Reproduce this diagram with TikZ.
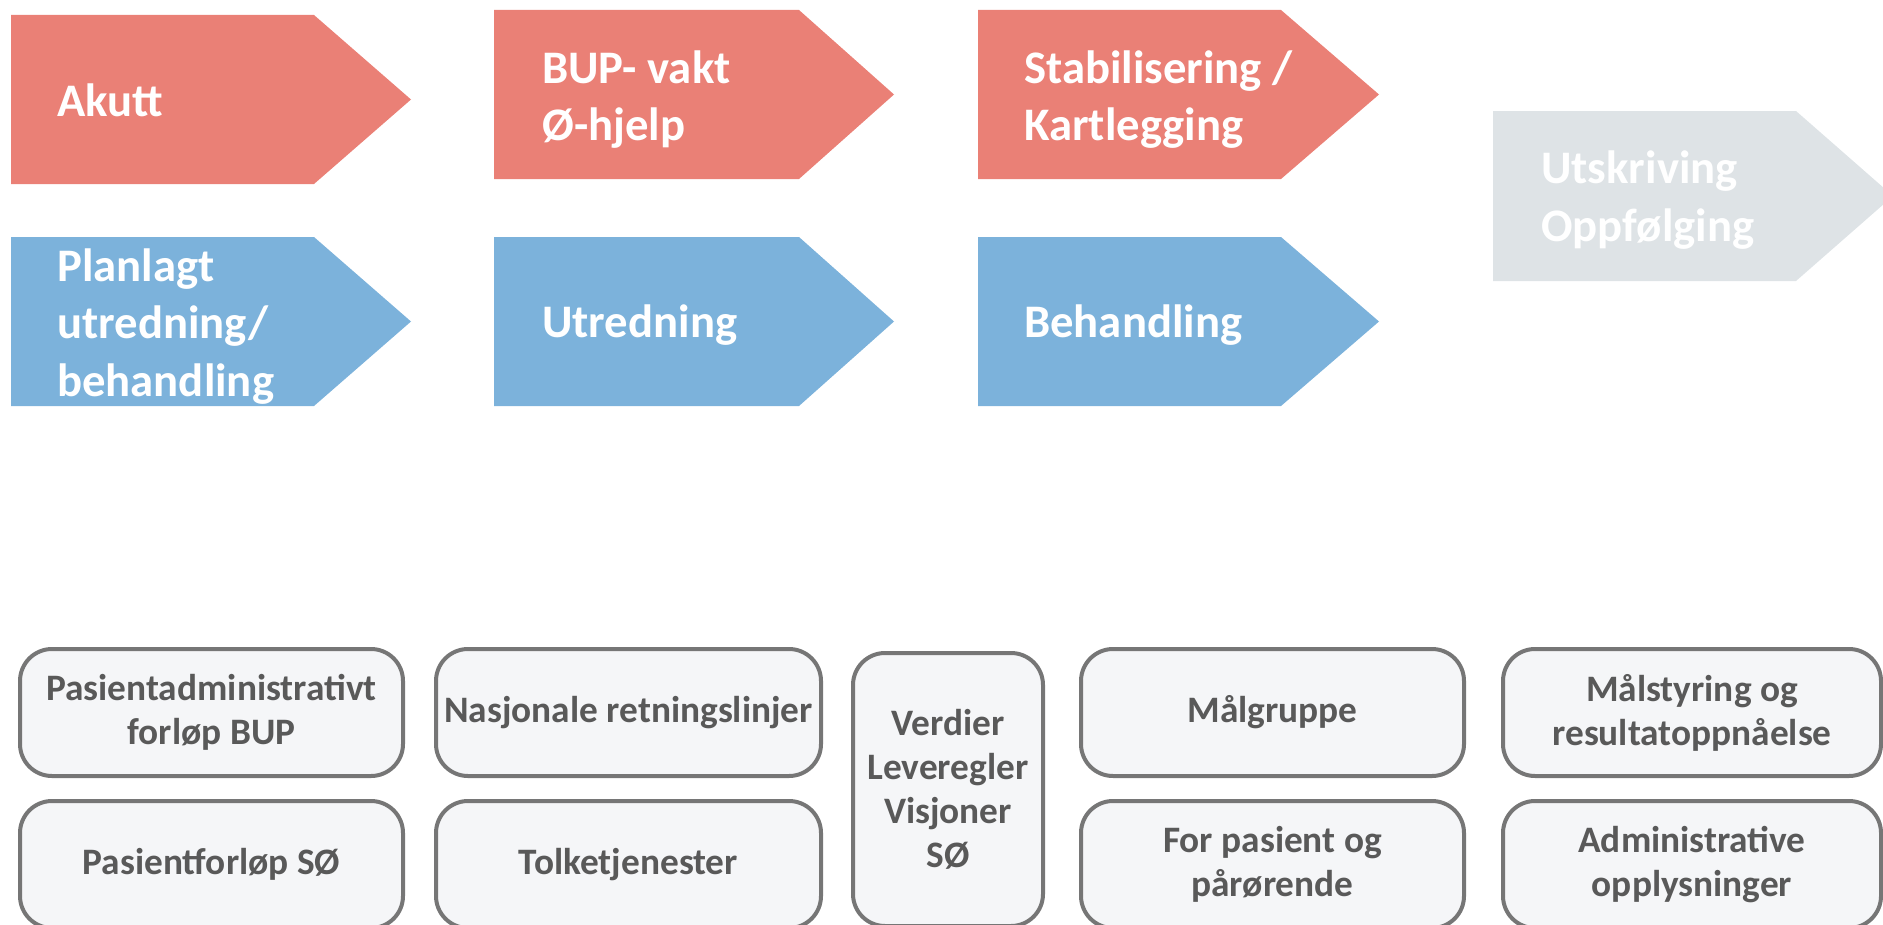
\documentclass[tikz,border=0pt]{standalone}
\usepackage{fontspec}
\setmainfont{Carlito}
\definecolor{redc}{RGB}{234,128,118}
\definecolor{bluec}{RGB}{124,178,219}
\definecolor{greyc}{RGB}{222,227,230}
\definecolor{boxfill}{RGB}{245,246,248}
\definecolor{boxline}{RGB}{118,118,118}
\definecolor{boxtext}{RGB}{89,89,89}
\tikzset{
  arrowtext/.style={anchor=west, align=left, inner sep=0pt, text=white,
    font=\fontsize{35pt}{43pt}\selectfont\bfseries},
  pbox/.style={draw=boxline, fill=boxfill, line width=3pt, rounded corners=24pt,
    align=center, text=boxtext, inner sep=0pt,
    font=\fontsize{28pt}{33pt}\selectfont\bfseries},
}
\begin{document}
\begin{tikzpicture}[x=0.75pt,y=-0.75pt]
\useasboundingbox (0,0) rectangle (1883,924);
\clip (0,0) rectangle (1883,924);
% top row (red)
\fill[redc] (11,15) -- (314,15) -- (411,99.5) -- (314,184) -- (11,184) -- cycle;
\fill[redc] (494,10) -- (799,10) -- (894,94.5) -- (799,179) -- (494,179) -- cycle;
\fill[redc] (978,10) -- (1281,10) -- (1379,94.5) -- (1281,179) -- (978,179) -- cycle;
% second row (blue)
\fill[bluec] (11,237) -- (314,237) -- (411,321.5) -- (314,406) -- (11,406) -- cycle;
\fill[bluec] (494,237) -- (799,237) -- (894,321.5) -- (799,406) -- (494,406) -- cycle;
\fill[bluec] (978,237) -- (1281,237) -- (1379,321.5) -- (1281,406) -- (978,406) -- cycle;
% grey
\fill[greyc] (1493,111) -- (1796,111) -- (1893,196) -- (1796,281) -- (1493,281) -- cycle;

\node[arrowtext] (akutt) at (57,100) {Akutt};
\node[arrowtext] (bup) at (542,99.5) {BUP- vakt\\Ø-hjelp};
\node[arrowtext] (stab) at (1024,99.5) {Stabilisering /\\Kartlegging};
\node[arrowtext] (plan) at (57,326.5) {Planlagt\\utredning/\\behandling};
\node[arrowtext] (utr) at (542,325.5) {Utredning};
\node[arrowtext] (beh) at (1024,325.5) {Behandling};
\node[arrowtext] (utsk) at (1541,200) {Utskriving\\Oppfølging};

% bottom boxes
\node[pbox, minimum width=287.25pt, minimum height=95.25pt] (b1) at (211.5,712.5) {Pasientadministrativt\\forløp BUP};
\node[pbox, minimum width=287.25pt, minimum height=95.25pt] (b2) at (211.5,864.5) {Pasientforløp SØ};
\node[pbox, minimum width=288.75pt, minimum height=95.25pt] (b3) at (628.5,712.5) {Nasjonale retningslinjer};
\node[pbox, minimum width=288.75pt, minimum height=95.25pt] (b4) at (628.5,864.5) {Tolketjenester};
\node[pbox, minimum width=142.5pt, minimum height=204.75pt] (b5) at (948,789.5) {Verdier\\Leveregler\\Visjoner\\SØ};
\node[pbox, minimum width=287.25pt, minimum height=95.25pt] (b6) at (1272.5,712.5) {Målgruppe};
\node[pbox, minimum width=287.25pt, minimum height=95.25pt] (b7) at (1272.5,864.5) {For pasient og\\pårørende};
\node[pbox, minimum width=283.5pt, minimum height=95.25pt] (b8) at (1692,712.5) {Målstyring og\\resultatoppnåelse};
\node[pbox, minimum width=283.5pt, minimum height=95.25pt] (b9) at (1692,864.5) {Administrative\\opplysninger};
\end{tikzpicture}
\end{document}
